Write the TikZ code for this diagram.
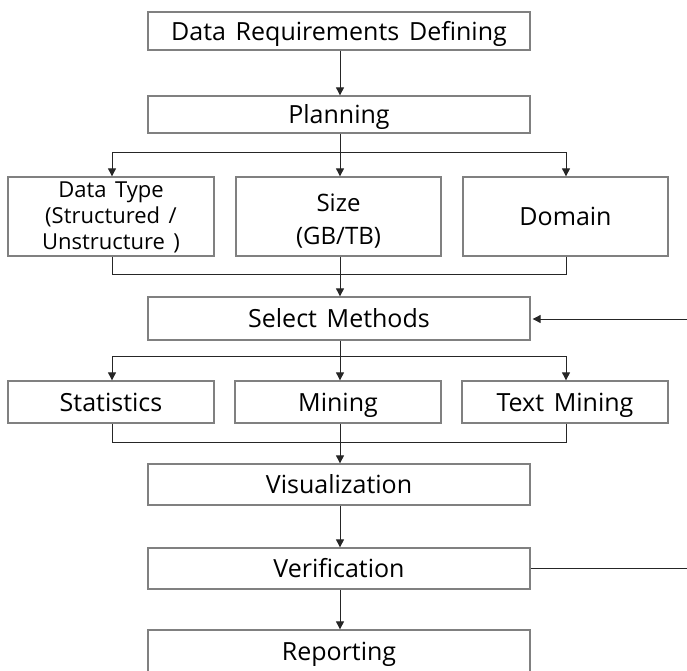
\documentclass[tikz,border=0pt]{standalone}
\usepackage{fontspec}
\setmainfont[WordSpace=1.5]{Open Sans}
\usetikzlibrary{arrows.meta}
\tikzset{
  box/.style={draw=black!50, line width=1.3pt, fill=white, inner sep=0pt, align=center, font=\fontsize{25}{30}\selectfont},
  one/.style={text height=20pt, text depth=2pt},
  wide/.style={box, one, minimum width=382pt, minimum height=40pt},
  cell/.style={box, minimum width=206pt},
  txt/.style={inner sep=0pt, align=center},
  conn/.style={draw=black!85, line width=0.9pt},
  arr/.style={conn, -{Triangle[width=8pt,length=8pt]}},
}
\begin{document}
\begin{tikzpicture}[x=1pt,y=-1pt]
\useasboundingbox (0,0) rectangle (687,670);
\clip (0,0) rectangle (687,670);
\node[wide, minimum height=38pt] (req) at (339,31) {Data Requirements Defining};
\node[wide, minimum height=37pt] (plan) at (339,114.5) {Planning};
\node[cell, minimum height=79pt] (dtype) at (111,216.5) {};
\node[txt, font=\fontsize{22}{26}\selectfont] (dtypet) at (111,217.5) {Data Type\\(Structured /\\Unstructure )};
\node[cell, minimum height=79pt, minimum width=205pt] (size) at (338.5,216.5) {};
\node[txt, font=\fontsize{24}{33.5}\selectfont] (sizet) at (338.5,221) {Size\\(GB/TB)};
\node[cell, one, minimum height=79pt, minimum width=205pt] (domain) at (565.5,216.5) {Domain};
\node[wide, minimum height=43pt] (sel) at (339,318.5) {Select Methods};
\node[cell, one, minimum height=42pt] (stat) at (111,402) {Statistics};
\node[cell, one, minimum height=42pt] (mining) at (338,402) {Mining};
\node[cell, one, minimum height=42pt] (tmin) at (565,402) {Text Mining};
\node[wide, minimum height=41pt] (vis) at (339,484.5) {Visualization};
\node[wide, minimum height=41pt] (ver) at (339,568.5) {Verification};
\node[wide, minimum height=42pt] (rep) at (339,651) {Reporting};

\coordinate (b1) at (340,152);
\coordinate (m1) at (340,274);
\coordinate (b2) at (340,356);
\coordinate (m2) at (340,442);
\coordinate (fbin) at (687,319);
\coordinate (fbout) at (687,568.5);

\draw[arr] (req.south -| 340,0) -- (plan.north -| 340,0);
\draw[conn] (plan.south -| 340,0) -- (b1);
\draw[arr] (b1) -| (dtype.north -| 112,0);
\draw[arr] (b1) -- (size.north -| 340,0);
\draw[arr] (b1) -| (domain.north -| 566,0);
\draw[conn] (dtype.south -| 112,0) |- (m1);
\draw[conn] (domain.south -| 566,0) |- (m1);
\draw[arr] (size.south -| 340,0) -- (sel.north -| 340,0);
\draw[arr, shorten >=2pt] (fbin) -- (sel.east |- fbin);
\draw[conn] (sel.south -| 340,0) -- (b2);
\draw[arr] (b2) -| (stat.north -| 112,0);
\draw[arr] (b2) -- (mining.north -| 340,0);
\draw[arr] (b2) -| (tmin.north -| 566,0);
\draw[conn] (stat.south -| 112,0) |- (m2);
\draw[conn] (tmin.south -| 566,0) |- (m2);
\draw[arr] (mining.south -| 340,0) -- (vis.north -| 340,0);
\draw[arr] (vis.south -| 340,0) -- (ver.north -| 340,0);
\draw[arr] (ver.south -| 340,0) -- (rep.north -| 340,0);
\draw[conn] (ver.east) -- (fbout);
\end{tikzpicture}
\end{document}
